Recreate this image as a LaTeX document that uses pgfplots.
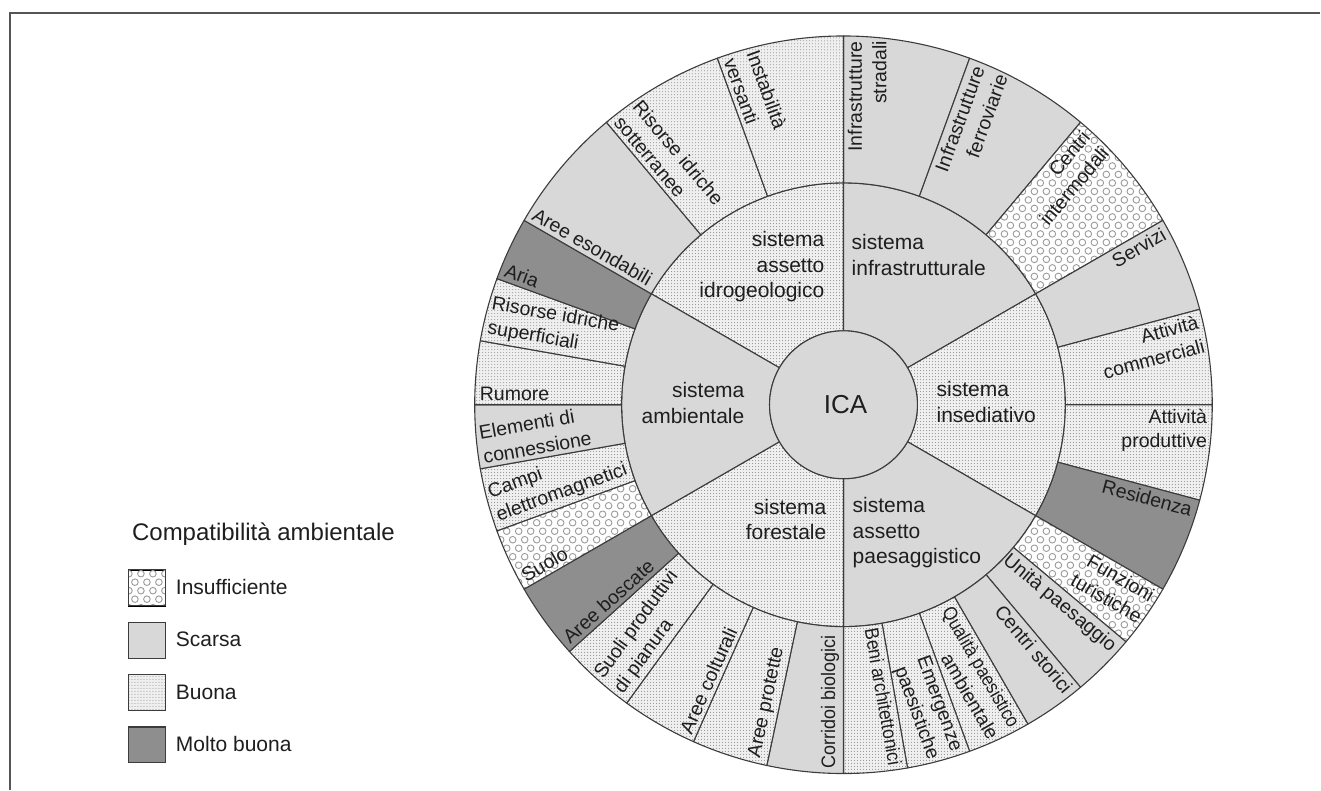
\documentclass[border=0pt]{standalone}
\usepackage{fontspec}
\setmainfont{Liberation Sans}
\usepackage{graphicx}
\usepackage{pgfplots}
\pgfplotsset{compat=1.18}
\usepackage{pgfplotstable}
\usetikzlibrary{patterns}

\definecolor{scarsa}{HTML}{D8D8D8}
\definecolor{molto}{HTML}{8E8E8E}
\definecolor{buonabg}{HTML}{EFEFEF}
\definecolor{buonadot}{HTML}{8A8A8A}
\definecolor{circ}{HTML}{9A9A9A}
\definecolor{edge}{HTML}{3C3C3C}
\definecolor{txt}{HTML}{1E1E1E}
\definecolor{framec}{HTML}{555555}

\pgfdeclarepatternformonly{rings}{\pgfqpoint{-1pt}{-1pt}}{\pgfqpoint{13pt}{18pt}}{\pgfqpoint{12pt}{17pt}}{%
  \pgfsetlinewidth{0.9pt}%
  \pgfpathcircle{\pgfqpoint{3pt}{4.25pt}}{3.3pt}%
  \pgfpathcircle{\pgfqpoint{9pt}{12.75pt}}{3.3pt}%
  \pgfusepath{stroke}}

\tikzset{
  c0/.style={preaction={fill=white}, pattern=rings, pattern color=circ},
  c1/.style={fill=scarsa},
  c2/.style={preaction={fill=buonabg}, pattern=dots, pattern color=buonadot},
  c3/.style={fill=molto},
  sector/.style={draw=edge, line width=1.1pt, line join=round},
  olab/.style={font=\fontsize{19.5}{24.5}\selectfont, inner sep=4pt, text=txt},
  slab/.style={font=\fontsize{21}{25.5}\selectfont, inner sep=0pt, text=txt},
}

% a0, a1: start/end angle (deg); rin, rout: radii; cls: 0 Insufficiente, 1 Scarsa, 2 Buona, 3 Molto buona
\pgfplotstableread{
a0   a1   rin rout cls
90   150  74  222  2
30   90   74  222  1
-30  30   74  222  2
-90  -30  74  222  1
210  270  74  222  2
150  210  74  222  1
70   90   222 369  1
50   70   222 369  1
30   50   222 369  0
15   30   222 369  1
0    15   222 369  2
-15  0    222 369  2
-30  -15  222 369  3
-40  -30  222 369  0
-50  -40  222 369  1
-60  -50  222 369  1
-70  -60  222 369  2
-80  -70  222 369  2
-90  -80  222 369  2
258  270  222 369  1
246  258  222 369  2
234  246  222 369  2
222  234  222 369  2
210  222  222 369  3
200  210  222 369  0
190  200  222 369  2
180  190  222 369  1
170  180  222 369  2
160  170  222 369  2
150  160  222 369  3
130  150  222 369  1
110  130  222 369  2
90   110  222 369  2
}\segs

\pgfplotstablegetrowsof{\segs}
\pgfmathtruncatemacro\nseg{\pgfplotsretval-1}

\newcommand{\rlab}[2]{\node[olab,anchor=north east,align=right,rotate=#1] at (axis cs:{368*cos(#1)},{368*sin(#1)}) {#2};}
\newcommand{\llab}[2]{\node[olab,anchor=south west,align=left,rotate=#1-180] at (axis cs:{368*cos(#1)},{368*sin(#1)}) {#2};}

\begin{document}
\begin{tikzpicture}
\begin{axis}[
  x=1pt, y=1pt, disabledatascaling,
  xmin=-844, xmax=477, ymin=-385, ymax=405,
  hide axis, clip=false, scale only axis,
  legend cell align=left,
  legend image code/.code={\draw[#1, draw=edge, line width=1.1pt] (0pt,-18pt) rectangle (37pt,18pt); \path (0pt,-26pt) (0pt,26pt);},
  legend style={at={(0.0969,0.2886)}, anchor=north west, draw=none, fill=none,
    inner sep=0pt, outer sep=0pt, row sep=0pt, column sep=8pt,
    font=\fontsize{21}{25}\selectfont\color{txt}},
]
\path (axis cs:-844,-385) rectangle (axis cs:477,405);
\draw[framec, line width=1.6pt] (axis cs:-834,-385) -- (axis cs:-834,392) -- (axis cs:477,392);

\pgfplotsforeachungrouped \i in {0,...,\nseg}{%
  \pgfplotstablegetelem{\i}{a0}\of\segs \let\aA\pgfplotsretval
  \pgfplotstablegetelem{\i}{a1}\of\segs \let\aB\pgfplotsretval
  \pgfplotstablegetelem{\i}{rin}\of\segs \let\rI\pgfplotsretval
  \pgfplotstablegetelem{\i}{rout}\of\segs \let\rO\pgfplotsretval
  \pgfplotstablegetelem{\i}{cls}\of\segs \let\cl\pgfplotsretval
  \pgfmathsetmacro\xa{\rI*cos(\aA)}\pgfmathsetmacro\ya{\rI*sin(\aA)}%
  \pgfmathsetmacro\xb{\rO*cos(\aA)}\pgfmathsetmacro\yb{\rO*sin(\aA)}%
  \pgfmathsetmacro\xc{\rI*cos(\aB)}\pgfmathsetmacro\yc{\rI*sin(\aB)}%
  \edef\tmp{\noexpand\draw[sector,c\cl] (axis cs:\xa,\ya) -- (axis cs:\xb,\yb)
     arc[start angle=\aA,end angle=\aB,radius=\rO] -- (axis cs:\xc,\yc)
     arc[start angle=\aB,end angle=\aA,radius=\rI] -- cycle;}%
  \tmp
}
\draw[sector,c1] (axis cs:0,0) circle[radius=74];

% centre and system labels
\node[slab, font=\fontsize{26}{30}\selectfont] at (axis cs:2,0) {ICA};
\node[slab, anchor=east, align=right] at (axis cs:-19,138) {sistema\\assetto\\idrogeologico};
\node[slab, anchor=west, align=left] at (axis cs:8,150) {sistema\\infrastrutturale};
\node[slab, anchor=west, align=left] at (axis cs:93,3) {sistema\\insediativo};
\node[slab, anchor=west, align=left] at (axis cs:9,-128) {sistema\\assetto\\paesaggistico};
\node[slab, anchor=east, align=right] at (axis cs:-17,-115) {sistema\\forestale};
\node[slab, anchor=east, align=right] at (axis cs:-99,2) {sistema\\ambientale};

% outer labels
\rlab{90}{Infrastrutture\\stradali}
\rlab{70}{Infrastrutture\\ferroviarie}
\rlab{50}{Centri\\intermodali}
\rlab{30}{Servizi}
\rlab{15}{Attività\\commerciali}
\rlab{0}{Attività\\produttive}
\rlab{-15}{Residenza}
\rlab{-30}{Funzioni\\turistiche}
\rlab{-40}{Unità paesaggio}
\rlab{-50}{Centri storici}
\rlab{-60}{\scalebox{0.88}[1]{Qualità paesistico}\\ambientale}
\rlab{-70}{Emergenze\\paesistiche}
\rlab{-80}{\scalebox{0.9}[1]{Beni architettonici}}
\llab{110}{Instabilità\\versanti}
\llab{130}{Risorse idriche\\sotterranee}
\llab{150}{Aree esondabili}
\llab{160}{Aria}
\llab{170}{Risorse idriche\\superficiali}
\llab{180}{Rumore}
\llab{190}{Elementi di\\connessione}
\llab{200}{Campi\\elettromagnetici}
\llab{210}{Suolo}
\llab{222}{Aree boscate}
\llab{234}{Suoli produttivi\\di pianura}
\llab{246}{Aree colturali}
\llab{258}{Aree protette}
\llab{270}{\scalebox{0.92}[1]{Corridoi biologici}}

% legend
\node[anchor=base west, inner sep=0pt, font=\fontsize{24}{28}\selectfont, text=txt] at (axis cs:-712,-136) {Compatibilità ambientale};
\addlegendimage{c0}\addlegendentry{Insufficiente}
\addlegendimage{c1}\addlegendentry{Scarsa}
\addlegendimage{c2}\addlegendentry{Buona}
\addlegendimage{c3}\addlegendentry{Molto buona}
\end{axis}
\end{tikzpicture}
\end{document}
